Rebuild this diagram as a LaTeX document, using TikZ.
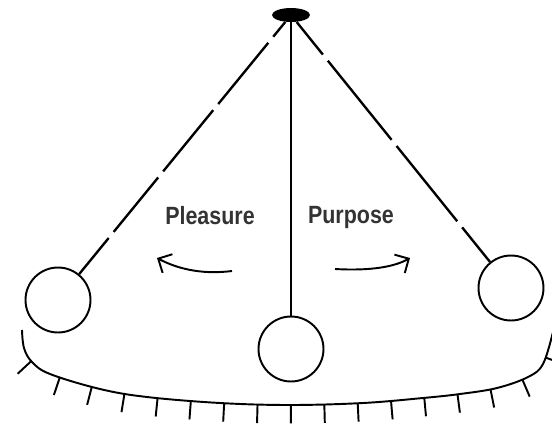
\documentclass[tikz,border=0pt]{standalone}
\usepackage{fontspec}
\setsansfont{Liberation Sans}[FakeStretch=0.86]
\usetikzlibrary{arrows.meta,decorations.markings,shapes.geometric,positioning}

\tikzset{
  rod/.style={line width=1.35pt},
  bob/.style={circle,draw,line width=1.1pt,inner sep=0pt,minimum size=1.3cm},
  pivotblob/.style={ellipse,fill=black,inner sep=0pt,minimum width=0.76cm,minimum height=0.28cm},
  swing/.style={line width=1.1pt,-{Straight Barb[length=6pt,width=12pt,line width=1.1pt]}},
  lbl/.style={font=\sffamily\bfseries\fontsize{14.2}{16}\selectfont,text=black!80,anchor=base},
  hatch/.style={line width=1.1pt},
  ground/.style={line width=1.1pt,
    decoration={markings,
      mark=between positions 0.056 and 0.96 step 0.0562 with {\draw[hatch] (0pt,0pt) -- (0pt,-10.5pt);}},
    postaction={decorate}}
}

\begin{document}
\begin{tikzpicture}[x=0.02cm,y=-0.02cm]
    \useasboundingbox (0,0) rectangle (552,427);

    \node[pivotblob] (pivot) at (291,15) {};
    \node[bob] (lbob) at (58,300) {};
    \node[bob] (mbob) at (291,349) {};
    \node[bob] (rbob) at (511,288) {};

    \draw[rod] (pivot) -- (mbob);
    \draw[rod,dash pattern=on 10.8pt off 4.5pt on 45pt off 4.5pt on 45pt off 4.5pt on 40pt off 4.5pt on 60pt] (pivot) -- (lbob);
    \draw[rod,dash pattern=on 23.8pt off 4.5pt on 57.8pt off 4.5pt on 55pt off 4.5pt on 60pt] (pivot) -- (rbob);

    \node[lbl] (pleasure) at (210,224) {Pleasure};
    \node[lbl] (purpose) at (351,223) {Purpose};

    \coordinate (lstart) at (232,271);
    \coordinate (ltip) at (157,258);
    \coordinate (rstart) at (335,269);
    \coordinate (rtip) at (410,258);
    \draw[swing] (lstart) .. controls (200,275) and (176,268) .. (ltip);
    \draw[swing] (rstart) .. controls (370,271) and (394,267) .. (rtip);

    \draw[ground] plot[smooth,tension=0.6] coordinates {(22,330) (24,348) (32,362) (50,374) (100,389) (147,397) (220,403) (290,405) (363,403) (423,398) (460,394) (497,388) (528,377) (543,364) (553,332)};
\end{tikzpicture}
\end{document}
